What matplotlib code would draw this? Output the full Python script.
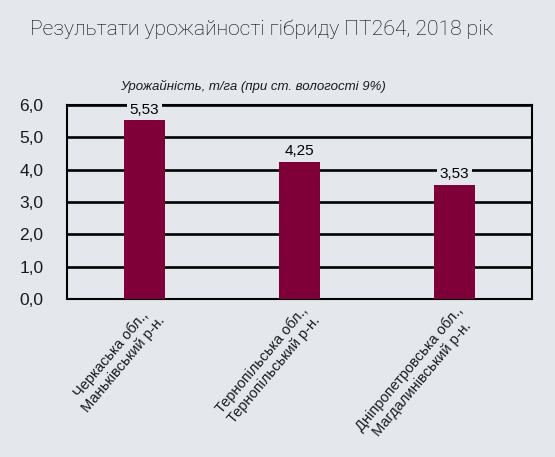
import numpy as np
import matplotlib
matplotlib.use("Agg")
import matplotlib.pyplot as plt

# data
regions = ["Черкаська обл.,\nМаньківський р-н.",
           "Тернопільська обл.,\nТернопільський р-н.",
           "Дніпропетровська обл.,\nМагдалинівський р-н."]
yields = [5.53, 4.25, 3.53]
yticks = [0, 1, 2, 3, 4, 5, 6]

bg = "#e4e8ed"
bar_color = "#7f0039"

plt.rcParams['font.family'] = ['Liberation Sans', 'DejaVu Sans']

fig = plt.figure(figsize=(5.55, 4.57), dpi=100, facecolor=bg)
ax = fig.add_axes([0.1207, 0.3457, 0.8379, 0.4245])
ax.set_facecolor(bg)

x = np.arange(len(regions))
ax.bar(x, yields, width=0.27, color=bar_color, zorder=3)

ax.set_xlim(-0.5, 2.5)
ax.set_ylim(0, 6)
ax.set_yticks(yticks)
ax.set_yticklabels([("%.1f" % v).replace(".", ",") for v in yticks], fontsize=12.5)
ax.yaxis.grid(True, color="black", linewidth=1.9, zorder=1)
ax.set_axisbelow(True)
ax.tick_params(axis="both", length=0, colors="#1a1a1a")
ax.tick_params(axis="y", pad=17)

ax.set_xticks(x)
ax.set_xticklabels(regions, rotation=50, ha="right", rotation_mode="anchor",
                   fontsize=10.5, multialignment="center")
ax.tick_params(axis="x", pad=3)

for s in ax.spines.values():
    s.set_color("black")
    s.set_linewidth(1.5)

# value labels above bars, box hides the grid line behind them
for xi, v in zip(x, yields):
    ax.annotate(("%.2f" % v).replace(".", ","), (xi, v), xytext=(0, 2.5),
                textcoords="offset points", ha="center", va="bottom",
                fontsize=11, zorder=4,
                bbox=dict(boxstyle="square,pad=0.2", fc=bg, ec="none"))

fig.text(0.472, 0.937, "Результати урожайності гібриду ПТ264, 2018 рік",
         ha="center", va="center", fontsize=15.2,
         family=["Roboto", "DejaVu Sans"], fontweight="light", color="black")
fig.text(0.455, 0.81, "Урожайність, т/га (при ст. вологості 9%)",
         ha="center", va="center", fontsize=9.5, style="italic", color="#1a1a1a")

fig.savefig("out.png", dpi=100, facecolor=bg)
